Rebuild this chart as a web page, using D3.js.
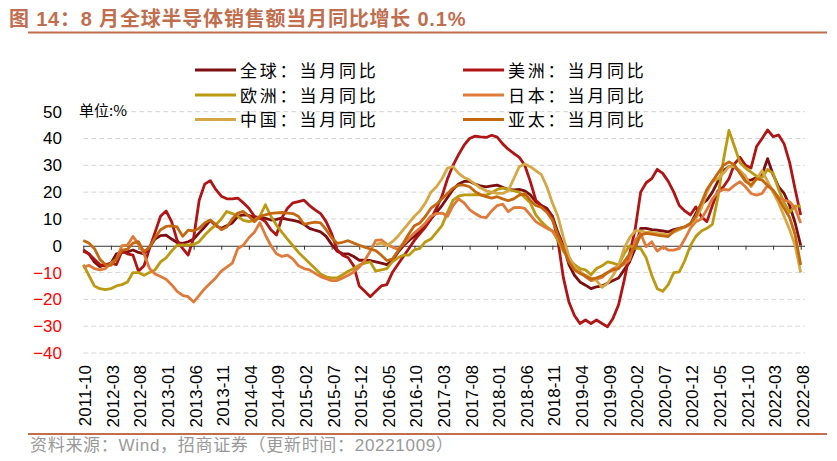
<!DOCTYPE html>
<html>
<head>
<meta charset="utf-8">
<script src="https://cdn.jsdelivr.net/npm/d3@7"></script>
<style>
  body { margin: 0; background: #fff; }
  svg text { font-family: "Liberation Sans", Arial, "Noto Sans CJK SC", sans-serif; }
  .cjk { font-family: "Noto Sans CJK SC", sans-serif; }
</style>
</head>
<body>
<svg id="chart" width="837" height="461"></svg>
<script>
// months 2011-10 .. 2022-08
var months = d3.timeMonth.range(new Date(2011, 9, 1), new Date(2022, 8, 1)).map(d3.timeFormat("%Y-%m"));
var tickMonths = months.filter(function (d, i) { return i % 5 === 0; });
var yTicks = [50, 40, 30, 20, 10, 0, -10, -20, -30, -40];

var names = ["全球", "美洲", "欧洲", "日本", "中国", "亚太"];
var colors = ["#7D0F10", "#B01414", "#BB9A12", "#E07A3A", "#D5A845", "#C4670F"];

var globalVals = [-1.5,-3,-6,-7.8,-7,-6.6,-3,-2.5,-2.3,-1.6,-2.5,-3,-0.5,2.5,3.8,4,2.5,1.2,0.9,1.5,
  2.5,4.8,7,9.5,7.5,6.5,7.5,8.5,11,11.5,11.3,10.5,10.3,10.2,9.6,9.8,10.3,9.8,9.5,9,
  8,6.5,5.8,5.2,3.5,0.5,-2,-3,-3,-4,-5.4,-5.4,-5.5,-6,-6.5,-7,-5.5,-2.5,0,2,
  3.5,5.5,7.5,10,12.5,15,18,21,23,24,24,23,22.3,22,22.3,22.6,21.8,21,20.8,21,
  20.5,19,16.5,15,14,11,5,0,-7,-11,-13.5,-14.7,-16,-15.3,-15,-14,-13,-12,-9,-6,
  -1,6.5,6.5,6,5.8,5.5,5.2,6,6.5,7,8,12,15.5,17,20,24,28,29.5,29.5,27.5,
  24.5,24.5,25.5,26.5,32.5,26.5,22,19.5,15,8.5,0.1];

var americasVals = [-2,-3,-5,-7,-7.5,-6.5,-7,-2,-3,-3.5,-9.5,-7.5,-1,5,11,13,9,2,-1,-3.5,
  3,17,23,24.3,21,18.5,17.5,17.5,17.8,16,14,11,10.3,9,6,4,10.5,14,16,16.5,
  17,15,13.4,12,9,4.5,-1.5,-3.5,-4.5,-7.5,-15,-17,-19,-17,-15,-14.5,-10,-7,-4,-1,
  2,4.5,7,10,14,18.5,25,30,34,37.5,40,40.9,40.6,40.4,41.2,40.5,38,36,34.5,33,
  30,24,17,15,13,11,2,-12,-21,-26,-29,-27.7,-29,-27.7,-29,-30.2,-27,-22,-13,-3,
  6,20,23.5,25,28.5,27,24,20,15,13,11.5,14.5,10.8,9,15,20.5,22,25,30.5,33,
  30,29,37,40,43.2,40.7,41.3,38,31,21,11.5];

var europeVals = [-7,-11,-15,-16,-16.4,-16,-15,-14.5,-13.5,-10,-10,-11,-10,-9,-6,-4.5,-2,0.2,0.3,0.2,
  0.5,1.5,4,6,7.8,10,12.8,12,11,9.5,9,9.5,11,15.3,11,7.7,5,2.5,0,-2.5,
  -4.5,-6.5,-8.5,-10.5,-11.6,-12,-12,-10.8,-9.5,-8.5,-7.2,-6.5,-6,-9.5,-9,-8.5,-6,-4.5,-3.5,-3.5,
  -1.5,-1,1.5,2.5,5,7.5,12.5,17,18.5,19,19,19.1,19,18.9,19.8,21,21.5,21,20.5,20,
  18,16,11.5,9,7,5.5,2,-2,-5,-7,-8.5,-9,-10.8,-8.5,-7.5,-6,-6.5,-7.2,-3,0,
  -1,-1,-4.5,-11,-16,-17,-14.5,-10,-9.7,-5.5,0,3.5,5.5,6.5,8,18,32,43,37,31,
  29,27.5,26,25.5,28.5,27,21,16,12.5,14.8,14.8];

var japanVals = [-8,-7.3,-8.5,-9,-8.5,-6.6,-5,0,0.2,3.5,0.5,-3,-8.5,-10.5,-11.5,-12.5,-14.5,-17,-18.5,-19,
  -21,-18.5,-16,-14,-12,-9.5,-8,-6.5,-1,0.2,3,5,8.6,4,0,-3,-4,-3.5,-5,-7.5,
  -8.5,-9,-10.3,-11.5,-12.3,-13,-13,-12,-11,-9.8,-8,-5.5,-2,2,2.2,0.5,-0.5,-1.3,0.5,2.8,
  4.8,6.5,8.5,11,12,12.2,11,15,17.5,16,13.5,12,10.8,10.5,13,15,15.5,12.7,14.2,14.3,
  13.9,11.5,9,7.7,6.5,5.5,3,-0.5,-5.3,-8.5,-9.5,-11.6,-13,-12.5,-11.8,-10,-8.5,-7.8,-7,-5.3,
  2,4.5,-0.4,1.5,-2,-0.4,-1.6,-1.6,-1,2.5,6.5,9,10,13.5,17.5,20,21,20.8,22.5,23.9,
  22,19.5,18.9,19.5,22.6,20.5,18,17,16.4,14,8.5];

// China series starts 2016-03
var chinaVals = [null,null,null,null,null,null,null,null,null,null,null,null,null,null,null,null,null,null,null,null,
  null,null,null,null,null,null,null,null,null,null,null,null,null,null,null,null,null,null,null,null,
  null,null,null,null,null,null,null,null,null,null,null,null,null,0.5,1,0,1.5,3.5,6,8.5,
  11,13,16,20,22,25,29,29.5,27,25.5,24.5,23,21.5,20.5,20,19.5,19.5,20.5,25,29.5,
  30.5,29.5,28,26.5,22,16,11,3,-4,-8,-10,-11,-12,-13,-15.5,-14,-11,-7.5,-1,3,
  5.5,5.5,5,5,4.5,4.5,4,5,6,7,8,10,14,20,24,25,27,29.5,29.5,28,
  26,22,25,28,24,20,16,11,6,0,-10];

var apacVals = [2,1,-1,-5,-7,-7.3,-5,-1.6,-1.3,1,1.5,-2.3,-0.5,3,6,7.2,7.4,7,3.5,5.8,
  5.5,6.5,8.5,9.6,8,6,7,10,12.2,12.8,11,9,10.9,11.5,12.1,12.3,12.4,12.2,12,10.9,
  8,8.4,8.8,8.5,6,3,0.9,1.3,1.9,1,0.2,-0.5,-1.2,-1.8,-3.5,-5.5,-5,-2,1,4.5,
  7.5,8.5,11,14,15.5,17.5,19.5,21.5,22.6,22.6,22,20.2,19,18.3,17.8,18.3,17.5,16.8,17.5,18.9,
  19.5,17,15,14.3,12.5,9.6,4,-1,-6,-9,-10.3,-11.3,-12.5,-12,-11.2,-10,-9,-8.5,-6,-3,
  -0.5,4,4.6,4.3,4,3.7,3.4,5.5,6.5,7.1,8.3,11,16,21,24,27,30,31.3,30.1,27,
  24,22.6,25,24.5,22.5,20.8,17.5,14,10.5,4,-7.2];

var seriesVals = [globalVals, americasVals, europeVals, japanVals, chinaVals, apacVals];

var svg = d3.select("#chart");
var accent = "#C06E4E";

var x = d3.scalePoint().domain(months).range([83.3, 800.7]);
var y = d3.scaleLinear().domain([-40, 50]).range([353, 111.7]);

// title
svg.append("text")
    .attr("x", 9).attr("y", 26)
    .attr("fill", accent)
    .style("font-size", "20px").style("font-weight", "bold")
    .style("letter-spacing", "0.8px")
    .text("图 14：8 月全球半导体销售额当月同比增长 0.1%");
svg.append("line")
    .attr("x1", 28).attr("x2", 827).attr("y1", 32.5).attr("y2", 32.5)
    .attr("stroke", accent).attr("stroke-width", 2);

// grid
svg.append("g").selectAll("line")
    .data(yTicks.filter(function (d) { return d !== 0; }))
    .enter().append("line")
    .attr("x1", 83.3).attr("x2", 805)
    .attr("y1", function (d) { return y(d); })
    .attr("y2", function (d) { return y(d); })
    .attr("stroke", "#D6D6D6").attr("stroke-dasharray", "5,3");

// y labels
var yAxis = svg.append("g")
    .attr("transform", "translate(66,0)")
    .call(d3.axisLeft(y).tickValues(yTicks).tickSize(0).tickPadding(4));
yAxis.select(".domain").remove();
yAxis.selectAll("text")
    .style("font-size", "17px")
    .attr("fill", function (d) { return d < 0 ? "#FF0000" : "#000"; });

svg.append("text").attr("class", "cjk")
    .attr("x", 79).attr("y", 116)
    .style("font-size", "15px")
    .text("单位:%");

// zero axis with ticks
var xAxis = svg.append("g")
    .attr("transform", "translate(0," + y(0) + ")")
    .call(d3.axisBottom(x).tickValues(tickMonths).tickSize(4).tickFormat(""));
xAxis.select(".domain").attr("d", "M83.3,0.5H805").attr("stroke", "#333");
xAxis.selectAll(".tick line").attr("stroke", "#333");

// month labels
svg.append("g").selectAll("text")
    .data(tickMonths)
    .enter().append("text")
    .attr("transform", function (d) { return "translate(" + (x(d) + 8) + ",365) rotate(-90)"; })
    .attr("text-anchor", "end")
    .style("font-size", "17px")
    .text(function (d) { return d; });

// lines
var line = d3.line()
    .defined(function (d) { return d != null; })
    .x(function (d, i) { return x(months[i]); })
    .y(function (d) { return y(d); });

svg.append("g").selectAll("path")
    .data(seriesVals)
    .enter().append("path")
    .attr("fill", "none")
    .attr("stroke", function (d, i) { return colors[i]; })
    .attr("stroke-width", 2.8)
    .attr("stroke-linejoin", "round")
    .attr("d", line);

// legend
var legend = svg.append("g").selectAll("g")
    .data(names)
    .enter().append("g")
    .attr("transform", function (d, i) {
        return "translate(" + (i % 2 === 0 ? 195 : 463) + "," + [70, 95, 119.5][Math.floor(i / 2)] + ")";
    });
legend.append("line")
    .attr("x1", 0).attr("x2", 41)
    .attr("stroke", function (d, i) { return colors[i]; })
    .attr("stroke-width", 3);
legend.append("text").attr("class", "cjk")
    .attr("x", 45).attr("y", 6.5)
    .style("font-size", "17px").style("letter-spacing", "2.8px")
    .text(function (d) { return d + "：当月同比"; });

// source
svg.append("line")
    .attr("x1", 28).attr("x2", 827).attr("y1", 434).attr("y2", 434)
    .attr("stroke", accent).attr("stroke-width", 2);
svg.append("text")
    .attr("x", 30).attr("y", 451)
    .attr("fill", "#999")
    .style("font-size", "17px").style("letter-spacing", "0.7px")
    .text("资料来源：Wind，招商证券（更新时间：20221009）");
</script>
</body>
</html>
